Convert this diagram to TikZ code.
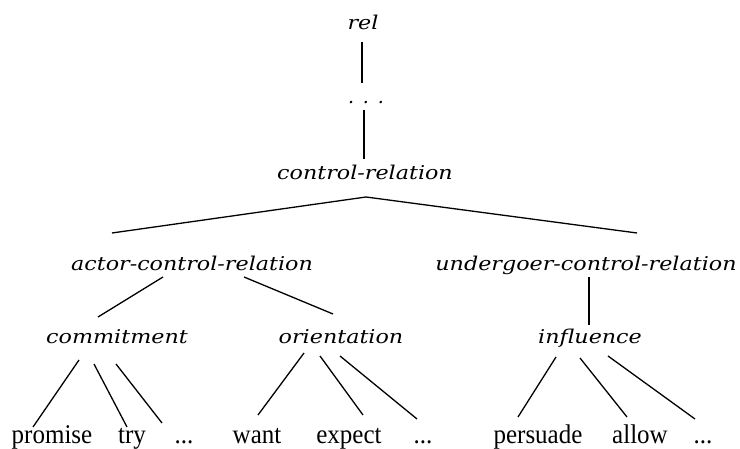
\documentclass[tikz,border=0pt]{standalone}
\usepackage{fontspec}
\setmainfont{Liberation Serif}
\newfontfamily\catfont{DejaVu Serif}
\newfontfamily\leaffont{Liberation Serif}
\newcommand{\catx}[1]{\scalebox{1.17}[1]{#1}}
\newcommand{\leafx}[1]{\scalebox{1}[1.08]{#1}}
\begin{document}
\begin{tikzpicture}[x=1pt,y=-1pt,
  cat/.style={anchor=base,inner sep=0pt,font=\catfont\itshape\fontsize{19}{19}\selectfont},
  leaf/.style={anchor=base,inner sep=0pt,font=\leaffont\fontsize{25}{25}\selectfont},
  edge/.style={line width=1.3pt}]
\useasboundingbox (0,0) rectangle (740,449);
% category nodes
\node[cat] (rel) at (363,30) {\catx{rel}};
\node[cat] (dots) at (366,104) {\makebox[36pt]{.\hfill.\hfill.}};
\node[cat] (ctrl) at (365,180) {\catx{control-relation}};
\node[cat] (actor) at (192,271) {\catx{actor-control-relation}};
\node[cat] (under) at (586,271) {\catx{undergoer-control-relation}};
\node[cat] (commit) at (117,344) {\catx{commitment}};
\node[cat] (orient) at (341,344) {\catx{orientation}};
\node[cat] (infl) at (590,344) {\catx{influence}};
% leaves
\node[leaf] (promise) at (52,443) {\leafx{promise}};
\node[leaf] (try) at (132,443) {\leafx{try}};
\node[leaf] (etc1) at (184,443) {\leafx{...}};
\node[leaf] (want) at (257,443) {\leafx{want}};
\node[leaf] (expect) at (349,443) {\leafx{expect}};
\node[leaf] (etc2) at (423,443) {\leafx{...}};
\node[leaf] (persuade) at (538,443) {\leafx{persuade}};
\node[leaf] (allow) at (640,443) {\leafx{allow}};
\node[leaf] (etc3) at (703,443) {\leafx{...}};
% edges
\draw[edge] ([shift={(-1,12)}]rel.base) -- ([shift={(-4,-21)}]dots.base);
\draw[edge] ([shift={(-2,6)}]dots.base) -- ([shift={(-1,-21)}]ctrl.base);
\draw[edge] ([shift={(-80,-38)}]actor.base) -- ([shift={(1,17)}]ctrl.base) -- ([shift={(51,-38)}]under.base);
\draw[edge] ([shift={(-29,6)}]actor.base) -- ([shift={(-19,-27)}]commit.base);
\draw[edge] ([shift={(52,6)}]actor.base) -- ([shift={(-8,-30)}]orient.base);
\draw[edge] ([shift={(3,6)}]under.base) -- ([shift={(-1,-19)}]infl.base);
\draw[edge] ([shift={(-38,16)}]commit.base) -- ([shift={(-19,-16)}]promise.base);
\draw[edge] ([shift={(-23,20)}]commit.base) -- ([shift={(-5,-16)}]try.base);
\draw[edge] ([shift={(-1,20)}]commit.base) -- ([shift={(-22,-20)}]etc1.base);
\draw[edge] ([shift={(-37,9)}]orient.base) -- ([shift={(1,-28)}]want.base);
\draw[edge] ([shift={(-21,12)}]orient.base) -- ([shift={(14,-28)}]expect.base);
\draw[edge] ([shift={(-1,12)}]orient.base) -- ([shift={(-6,-24)}]etc2.base);
\draw[edge] ([shift={(-34,13)}]infl.base) -- ([shift={(-20,-26)}]persuade.base);
\draw[edge] ([shift={(-10,14)}]infl.base) -- ([shift={(-13,-26)}]allow.base);
\draw[edge] ([shift={(18,12)}]infl.base) -- ([shift={(-8,-24)}]etc3.base);
\end{tikzpicture}
\end{document}
